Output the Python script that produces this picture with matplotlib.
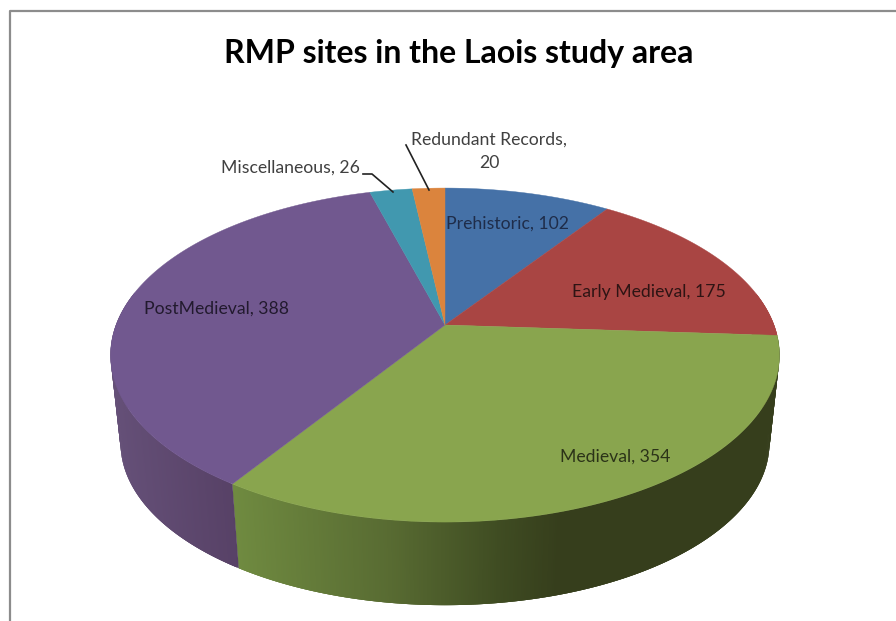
import numpy as np
import matplotlib
matplotlib.use('Agg')
import matplotlib.pyplot as plt
from matplotlib.colors import to_rgb

plt.rcParams['font.family'] = ['Lato', 'DejaVu Sans']

# data, clockwise from 12 o'clock
periods = ['Prehistoric', 'Early Medieval', 'Medieval', 'PostMedieval', 'Miscellaneous', 'Redundant Records']
sites = [102, 175, 354, 388, 26, 20]
colors = ['#4571a7', '#a94543', '#89a54e', '#71588f', '#4198af', '#db843d']

# pie geometry, in pixels of the picture
cx, cy = 445, 325
rx, ry = 329, 161.6
persp = 0.18
depth = 89
bottom_scale = 0.97

# side shading goes with x position
side_x = {2: [235, 390, 500, 560, 780], 3: [110, 235]}
side_c = {2: ['#6f8a40', '#586b32', '#3f4c22', '#363e1c', '#363e1c'], 3: ['#655078', '#574166']}


def project(theta, scale=1.0, shift=0.0):
    u, v = np.sin(theta), np.cos(theta)
    w = 1 + persp * v
    return cx + scale * rx * u / w, cy + scale * (-ry * v / w) + shift


def side_color(i, x, base):
    if i not in side_x:
        return base
    rgb = np.array([to_rgb(c) for c in side_c[i]])
    return tuple(np.interp(x, side_x[i], rgb[:, k]) for k in range(3))


fig = plt.figure(figsize=(8.96, 6.21), dpi=100)
ax = fig.add_axes([0, 0, 1, 1])
ax.set_xlim(0, 896)
ax.set_ylim(621, 0)
ax.axis('off')

edges = np.cumsum([0] + sites) / sum(sites) * 2 * np.pi

# side wall first, each strip runs on under the next one so no seams show
for i in range(len(sites)):
    t = np.linspace(edges[i], edges[i + 1], max(int((edges[i + 1] - edges[i]) * 200), 2))
    for j in range(len(t) - 1):
        a = t[j]
        b = t[j + 1]
        over = t[min(j + 3, len(t) - 1)]
        if np.cos((a + b) / 2) > 0.2:
            continue
        arc = np.linspace(a, over, 6)
        xt, yt = project(arc)
        xl, yl = project(arc[::-1], bottom_scale, depth)
        c = side_color(i, project((a + b) / 2)[0], colors[i])
        ax.fill(np.r_[xt, xl], np.r_[yt, yl], color=c, lw=0, zorder=2)

# top face
for i in range(len(sites)):
    t = np.linspace(edges[i], edges[i + 1], 120)
    x, y = project(t)
    ax.fill(np.r_[cx, x], np.r_[cy, y], color=colors[i], lw=0.3, zorder=3)

# labels
ax.text(508, 224, f'{periods[0]}, {sites[0]}', ha='center', va='center', fontsize=12.7, color='#1f2d4a', zorder=5)
ax.text(649, 292, f'{periods[1]}, {sites[1]}', ha='center', va='center', fontsize=12.7, color='#2e1414', zorder=5)
ax.text(615, 457, f'{periods[2]}, {sites[2]}', ha='center', va='center', fontsize=12.7, color='#2b3318', zorder=5)
ax.text(217, 309, f'{periods[3]}, {sites[3]}', ha='center', va='center', fontsize=12.7, color='#221a2e', zorder=5)
ax.text(290, 168, f'{periods[4]}, {sites[4]}', ha='center', va='center', fontsize=12.7, color='#404040', zorder=5)
ax.text(489, 151, f'{periods[5]},\n{sites[5]}', ha='center', va='center', fontsize=12.7, color='#404040', linespacing=1.55, zorder=5)

# leader lines
ax.plot([363, 372, 393], [174, 174, 192], color='#222222', lw=1.2, zorder=4)
ax.plot([406, 429], [145, 190], color='#222222', lw=1.2, zorder=4)

# title
ax.text(459, 54, 'RMP sites in the Laois study area', ha='center', va='center', fontsize=23, fontweight='bold', color='black')

# chart frame, only top and left show
ax.plot([10, 10, 896], [621, 11, 11], color='#8c8c8c', lw=1.6, zorder=1)

fig.savefig('out.png', dpi=100)
